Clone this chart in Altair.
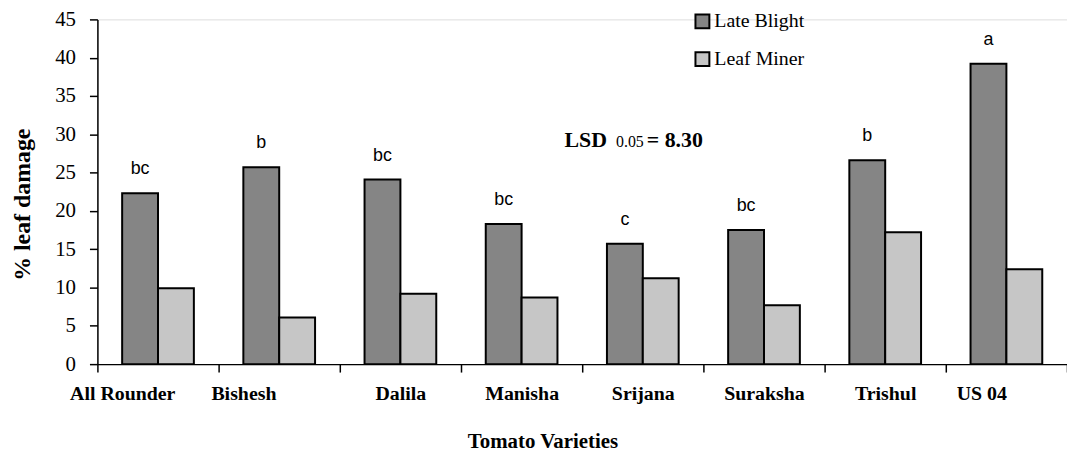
import altair as alt
import pandas as pd

varieties = ["All Rounder", "Bishesh", "Dalila", "Manisha", "Srijana", "Suraksha", "Trishul", "US 04"]
late_blight = [22.3, 25.7, 24.1, 18.3, 15.7, 17.5, 26.6, 39.2]
leaf_miner = [9.9, 6.1, 9.2, 8.7, 11.2, 7.7, 17.2, 12.4]
letters = ["bc", "b", "bc", "bc", "c", "bc", "b", "a"]
series = ["Late Blight", "Leaf Miner"]
colors = ["#858585", "#c6c6c6"]
y_ticks = [0, 5, 10, 15, 20, 25, 30, 35, 40, 45]
lsd_parts = ["LSD", "0.05", "= 8.30"]
lsd_anchor = ["Srijana"]
lsd_level = [28.3]

rows = []
for v, lb, lm in zip(varieties, late_blight, leaf_miner):
    rows.append({"variety": v, "series": series[0], "value": lb})
    rows.append({"variety": v, "series": series[1], "value": lm})
df = pd.DataFrame(rows)
lab = pd.DataFrame({"variety": varieties, "series": series[0], "value": late_blight, "letter": letters})
lsd = pd.DataFrame({"variety": lsd_anchor, "value": lsd_level})

SERIF = "Liberation Serif"

x_enc = alt.X(
    "variety:N",
    sort=varieties,
    scale=alt.Scale(domain=varieties, paddingInner=0, paddingOuter=0),
    axis=alt.Axis(
        title="Tomato Varieties",
        titleFont=SERIF, titleFontSize=21, titleFontWeight="bold", titleColor="black",
        titleX=448, titleY=78, titleBaseline="middle", titleAlign="center",
        labelAngle=0, labelFont=SERIF, labelFontSize=20, labelFontWeight="bold",
        labelColor="black", labelPadding=12, labelOverlap=False,
        labelOffset={"condition": {"test": "datum.value === 'All Rounder' || datum.value === 'Bishesh'", "value": -36}, "value": 0},
        labelAlign={"condition": {"test": "datum.value === 'US 04'", "value": "right"}, "value": "center"},
        tickBand="extent", tickSize=8, tickColor="black", tickWidth=1.5,
        domainColor="black", domainWidth=1.5, grid=False,
    ),
)
xoff_enc = alt.XOffset(
    "series:N", sort=series,
    scale=alt.Scale(domain=series, paddingInner=0, paddingOuter=0.69),
)
y_enc = alt.Y(
    "value:Q",
    scale=alt.Scale(domain=[0, 45], nice=False, zero=True),
    axis=alt.Axis(
        values=y_ticks, grid=False, labelOverlap=False,
        title="% leaf damage",
        titleFont=SERIF, titleFontSize=24, titleFontWeight="bold", titleColor="black",
        titleX=-75, titleY=186, titleBaseline="middle", titleAlign="center",
        labelFont=SERIF, labelFontSize=21, labelColor="black", labelPadding=14,
        tickSize=8, tickColor="black", tickWidth=1.5,
        domainColor="black", domainWidth=1.5,
    ),
)

bars = alt.Chart(df).mark_bar(stroke="black", strokeWidth=2).encode(
    x=x_enc,
    xOffset=xoff_enc,
    y=y_enc,
    color=alt.Color(
        "series:N",
        sort=series,
        scale=alt.Scale(domain=series, range=colors),
        legend=alt.Legend(
            title=None, orient="none", legendX=599, legendY=-8,
            symbolType="square", symbolSize=196, symbolStrokeColor="black",
            symbolStrokeWidth=2, symbolOpacity=1,
            labelFont=SERIF, labelFontSize=20, labelColor="black",
            labelOffset=2, rowPadding=16, padding=0,
        ),
    ),
)

letter_text = alt.Chart(lab).mark_text(
    font="Liberation Sans", fontSize=18, baseline="middle", dy=-24, color="black"
).encode(
    x=x_enc,
    xOffset=xoff_enc,
    y=y_enc,
    text="letter:N",
)

lsd_base = alt.Chart(lsd).encode(x=x_enc, y=y_enc)
lsd1 = lsd_base.mark_text(font=SERIF, fontSize=22, fontWeight="bold", align="right",
                          baseline="alphabetic", dx=-36, color="black").encode(text=alt.value(lsd_parts[0]))
lsd2 = lsd_base.mark_text(font=SERIF, fontSize=16, align="center",
                          baseline="alphabetic", dx=-13, color="black").encode(text=alt.value(lsd_parts[1]))
lsd3 = lsd_base.mark_text(font=SERIF, fontSize=22, fontWeight="bold", align="left",
                          baseline="alphabetic", dx=4, color="black").encode(text=alt.value(lsd_parts[2]))

chart = alt.layer(bars, letter_text, lsd1, lsd2, lsd3).properties(
    width=976,
    height=347,
    autosize=alt.AutoSizeParams(type="none"),
    padding={"left": 90, "top": 10, "right": 0, "bottom": 90},
).configure_view(stroke=None).configure(background="white")

chart.save("out.html", embed_options={"renderer": "svg", "actions": False})
